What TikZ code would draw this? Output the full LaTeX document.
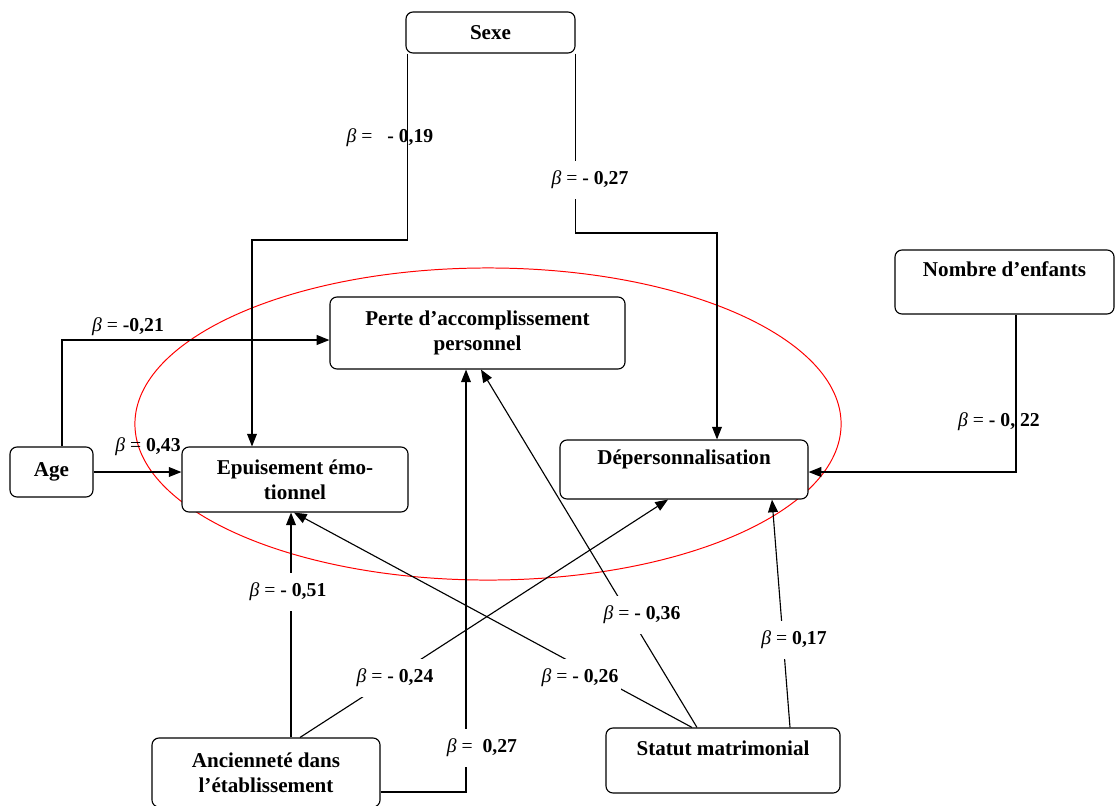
\documentclass[tikz,border=0pt]{standalone}
\usepackage{fontspec}
\setmainfont{Liberation Serif}
\usepackage{xcolor}
\usetikzlibrary{shapes,arrows,positioning,calc,arrows.meta}
\newcommand{\bval}[1]{\textit{β} = \textbf{#1}}

\begin{document}
\begin{tikzpicture}[x=0.025cm,y=-0.025cm,
  box/.style={draw, fill=white, rounded corners=5pt, line width=0.8pt, align=center,
    inner sep=0pt, font=\fontsize{15}{18}\selectfont\bfseries},
  lbl/.style={font=\fontsize{14}{16}\selectfont, inner sep=1pt},
  lblw/.style={lbl, fill=white, inner xsep=2pt, inner ysep=7pt},
  arr/.style={line width=0.8pt, -{Triangle[length=9pt,width=7pt]}},
  lin/.style={line width=0.8pt}]
\useasboundingbox (0,0) rectangle (1116,805);
				% ring round the three outcomes
				\draw[red, line width=0.7pt] (488,424) ellipse (8.825cm and 3.9cm);
				% variables
				\node[box, minimum width=4.225cm, minimum height=1.025cm] (sexe) at (490.5,32.5) {Sexe};
				\node[box, minimum width=5.475cm, minimum height=1.6cm] (nombre) at (1004.5,282) {Nombre d’enfants\\~};
				\node[box, minimum width=7.375cm, minimum height=1.8cm] (perte) at (477.5,333) {Perte d’accomplissement\\personnel};
				\node[box, minimum width=2.075cm, minimum height=1.25cm] (age) at (51.5,472) {Age};
				\node[box, minimum width=5.65cm, minimum height=1.625cm] (epuis) at (295,479.5) {Epuisement émo-\\tionnel};
				\node[box, minimum width=6.2cm, minimum height=1.475cm] (deper) at (684,469.5) {Dépersonnalisation\\~};
				\node[box, minimum width=5.7cm, minimum height=1.725cm] (ancien) at (266,772.5) {Ancienneté dans\\l’établissement};
				\node[box, minimum width=5.85cm, minimum height=1.625cm] (statut) at (723,760.5) {Statut matrimonial\\~};
				% paths
				\draw[arr] ([xshift=0.05cm]sexe.south west) |- (252,240) -- (epuis.north -| 252,0);
				\draw[arr] (sexe.south east) |- (717,233) -- (deper.north -| 717,0);
				\draw[arr] (age.north -| 62,0) |- (perte.west |- 0,340);
				\draw[arr] (age.east) -- (age.east -| epuis.west);
				\draw[arr] (nombre.south -| 1016,0) |- (deper.east |- 0,472);
				\draw[arr] (ancien.north -| 291,0) -- (epuis.south -| 291,0);
				\draw[arr] (ancien.north -| 300,0) -- (deper.south -| 668,0);
				\draw[arr] (ancien.east |- 0,792) -| (perte.south -| 466,0);
				\draw[arr] (statut.north -| 692,0) -- (epuis.south -| 294,0);
				\draw[arr] (statut.north -| 697,0) -- (perte.south -| 481,0);
				\draw[arr] (statut.north -| 790,0) -- (deper.south -| 772,0);
				% coefficients
				\node[lbl] (b19) at (390,138) {\bval{\ \ - 0,19}};
				\node[lblw] (b27s) at (590,180) {\bval{- 0,27}};
				\node[lbl] (b21) at (128,327) {\bval{-0,21}};
				\node[lbl] (b43) at (148,447) {\bval{0,43}};
				\node[lbl] (b22) at (999,422) {\bval{- 0, 22}};
				\node[lblw] (b51) at (288,592) {\bval{- 0,51}};
				\node[lblw] (b24) at (395,678) {\bval{- 0,24}};
				\node[lblw] (b27a) at (482,748) {\bval{\ 0,27}};
				\node[lblw] (b26) at (580,678) {\bval{- 0,26}};
				\node[lblw] (b36) at (642,615) {\bval{- 0,36}};
				\node[lblw] (b17) at (794,640) {\bval{0,17}};
\end{tikzpicture}
\end{document}
